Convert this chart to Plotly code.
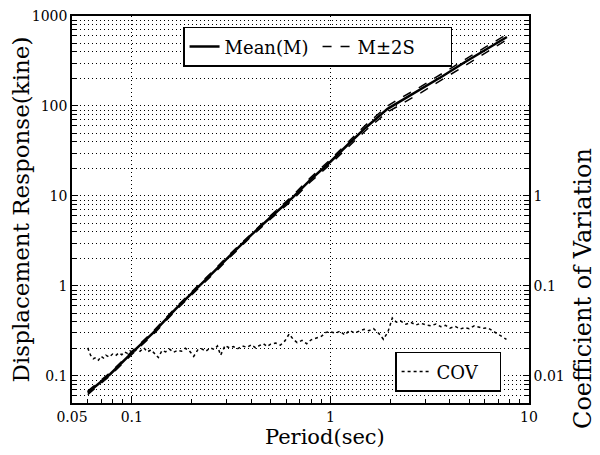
import plotly.graph_objects as go

# ---- data ----
period = [0.06, 0.078, 0.1, 0.128, 0.167, 0.22, 0.26, 0.314, 0.4, 0.5, 0.643, 0.79,
          1.0, 1.19, 1.5, 1.94, 2.18, 2.85, 3.7, 4.7, 6.0, 7.74]
mean_resp = [0.065, 0.105, 0.18, 0.30, 0.56, 1.0, 1.45, 2.2, 3.7, 5.8, 9.5, 15.0,
             24, 35, 57, 93, 108, 152, 217, 302, 415, 585]
upper_resp = [0.068, 0.109, 0.187, 0.312, 0.582, 1.04, 1.51, 2.29, 3.85, 6.05, 10.0, 15.8,
              25.4, 37.3, 61.0, 100, 117, 164, 234, 325, 448, 625]
lower_resp = [0.062, 0.101, 0.173, 0.288, 0.538, 0.96, 1.39, 2.11, 3.55, 5.55, 9.0, 14.2,
              22.6, 32.7, 53.0, 86, 99, 140, 200, 280, 383, 545]

cov_period = [0.060, 0.062, 0.064, 0.066, 0.068, 0.070, 0.072, 0.074, 0.077, 0.080, 0.083, 0.086,
              0.089, 0.092, 0.095, 0.098, 0.102, 0.106, 0.110, 0.115, 0.120, 0.125, 0.130, 0.136,
              0.142, 0.148, 0.155, 0.162, 0.170, 0.178, 0.186, 0.195, 0.205, 0.215, 0.225, 0.236,
              0.248, 0.26, 0.27, 0.28, 0.295, 0.31, 0.325, 0.34, 0.36, 0.38, 0.40, 0.42, 0.44,
              0.46, 0.48, 0.50, 0.53, 0.56, 0.59, 0.62, 0.65, 0.68, 0.72, 0.76, 0.80, 0.85, 0.90,
              0.95, 1.0, 1.06, 1.12, 1.18, 1.25, 1.32, 1.40, 1.48, 1.56, 1.65, 1.75, 1.85, 1.95,
              2.05, 2.15, 2.25, 2.4, 2.55, 2.7, 2.85, 3.0, 3.2, 3.4, 3.6, 3.8, 4.0, 4.25, 4.5,
              4.75, 5.0, 5.3, 5.6, 5.9, 6.2, 6.6, 7.0, 7.4, 7.7]
cov_values = [0.0205, 0.017, 0.0155, 0.016, 0.015, 0.0165, 0.0158, 0.017, 0.0162, 0.0175, 0.0168, 0.018,
              0.0172, 0.0185, 0.0178, 0.019, 0.0182, 0.0198, 0.0188, 0.0205, 0.0185, 0.0195, 0.0178, 0.0160,
              0.0192, 0.0185, 0.0198, 0.0183, 0.0192, 0.0188, 0.0203, 0.0190, 0.0165, 0.0195, 0.0200, 0.0188,
              0.0205, 0.0197, 0.0215, 0.0170, 0.0218, 0.0205, 0.0212, 0.0200, 0.0215, 0.0208, 0.0222, 0.0205, 0.0218,
              0.0228, 0.0212, 0.0225, 0.0232, 0.0220, 0.0245, 0.0292, 0.0255, 0.0235, 0.0248, 0.0228, 0.0252, 0.0265, 0.0275,
              0.0305, 0.0310, 0.0298, 0.0315, 0.0285, 0.0320, 0.0300, 0.0312, 0.0330, 0.0318, 0.0335, 0.0298, 0.0255, 0.0310,
              0.0440, 0.0395, 0.0410, 0.0375, 0.0392, 0.0368, 0.0385, 0.0372, 0.0360, 0.0378, 0.0352, 0.0365, 0.0340, 0.0355, 0.0332,
              0.0345, 0.0335, 0.0360, 0.0348, 0.0338, 0.0342, 0.0315, 0.0290, 0.0270, 0.0255]

x_tickvals = [0.05, 0.1, 1, 10]
x_ticktext = ["0.05", "0.1", "1", "10"]
y_tickvals = [0.1, 1, 10, 100, 1000]
y_ticktext = ["0.1", "1", "10", "100", "1000"]
y2_tickvals = [0.01, 0.1, 1]
y2_ticktext = ["0.01", "0.1", "1"]

FONT = "DejaVu Serif, serif"
GRID = dict(gridcolor="black", griddash="1px,3px", gridwidth=1)

def minor_vals(lo_exp, hi_exp):
    return [m * 10 ** e for e in range(lo_exp, hi_exp + 1) for m in range(2, 10)]

fig = go.Figure()
fig.add_trace(go.Scatter(x=period, y=mean_resp, mode="lines", name="Mean(M)",
                         line=dict(color="black", width=2.5), legend="legend"))
fig.add_trace(go.Scatter(x=period, y=upper_resp, mode="lines", name="M\u00b12S",
                         line=dict(color="black", width=1.5, dash="dash"), legend="legend"))
fig.add_trace(go.Scatter(x=period, y=lower_resp, mode="lines", name="M\u00b12S",
                         line=dict(color="black", width=1.5, dash="dash"), showlegend=False,
                         legend="legend"))
fig.add_trace(go.Scatter(x=cov_period, y=cov_values, mode="lines", name="COV", yaxis="y2",
                         line=dict(color="black", width=1.5, dash="dot"), legend="legend2"))

fig.update_layout(
    width=592, height=447,
    margin=dict(l=64, r=71, t=8, b=52),
    paper_bgcolor="white", plot_bgcolor="white",
    font=dict(family=FONT, color="black", size=14),
    xaxis=dict(type="log", range=[-1.30103, 1], tickvals=x_tickvals, ticktext=x_ticktext,
               ticks="inside", ticklen=6, tickcolor="black", automargin=False,
               ticklabeloverflow="allow",
               showline=True, linecolor="black", linewidth=1.5, mirror=True,
               showgrid=True, zeroline=False, **GRID,
               minor=dict(tickmode="array", tickvals=minor_vals(-2, 0), ticks="inside",
                          ticklen=4, tickcolor="black", showgrid=False),
               tickfont=dict(size=14)),
    yaxis=dict(type="log", range=[-1.30103, 3], tickvals=y_tickvals, ticktext=y_ticktext,
               ticks="inside", ticklen=6, tickcolor="black", automargin=False,
               ticklabeloverflow="allow",
               showline=True, linecolor="black", linewidth=1.5, mirror=False,
               showgrid=True, zeroline=False, **GRID,
               minor=dict(tickmode="array", tickvals=minor_vals(-2, 2), ticks="inside",
                          ticklen=4, tickcolor="black", showgrid=True, **GRID),
               title=dict(text="Displacement Response(kine)", font=dict(size=23), standoff=4),
               tickfont=dict(size=14)),
    yaxis2=dict(type="log", range=[-2.30103, 2], overlaying="y", side="right",
                tickvals=y2_tickvals, ticktext=y2_ticktext, automargin=False,
                ticklabeloverflow="allow",
                ticks="inside", ticklen=6, tickcolor="black",
                showline=True, linecolor="black", linewidth=1.5,
                showgrid=False, zeroline=False,
                minor=dict(tickmode="array", tickvals=minor_vals(-3, 1), ticks="inside",
                           ticklen=4, tickcolor="black", showgrid=False),
                tickfont=dict(size=14)),
    legend=dict(x=0.243, y=0.972, xanchor="left", yanchor="top", orientation="h",
                bgcolor="white", bordercolor="black", borderwidth=1.5,
                font=dict(size=18, family=FONT), entrywidth=88),
    legend2=dict(x=0.707, y=0.132, xanchor="left", yanchor="top", orientation="h",
                 bgcolor="white", bordercolor="black", borderwidth=1.5,
                 font=dict(size=18, family=FONT), entrywidth=58),
    annotations=[
        dict(text="Coefficient of Variation", textangle=-90, showarrow=False,
             xref="paper", yref="paper", x=1.118, y=0.297,
             xanchor="center", yanchor="middle", font=dict(size=24)),
        dict(text="Period(sec)", showarrow=False,
             xref="paper", yref="paper", x=0.554, y=-0.088,
             xanchor="center", yanchor="middle", font=dict(size=21)),
    ],
    showlegend=True,
)

fig.write_html("out.html")
